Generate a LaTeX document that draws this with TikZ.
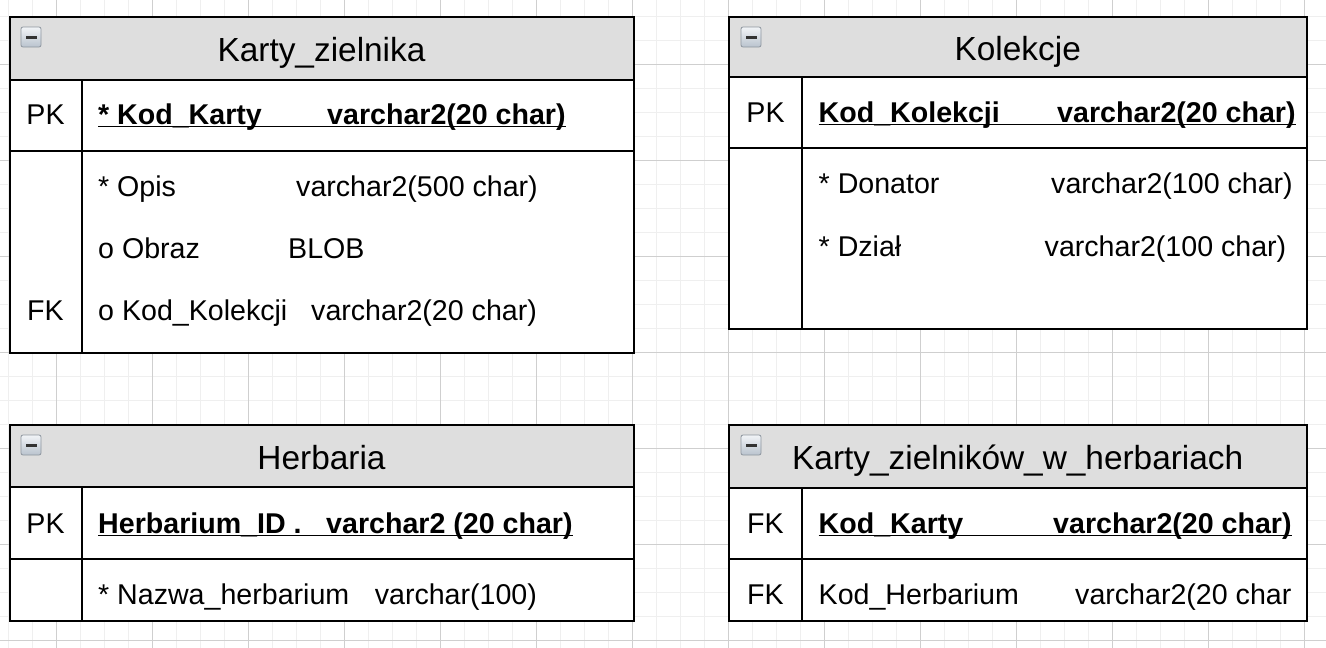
\documentclass[tikz,border=0pt]{standalone}
\usepackage{fontspec}
\setmainfont{Liberation Sans}
\definecolor{minorgrid}{HTML}{EFEFEF}
\definecolor{majorgrid}{HTML}{CFCFCF}
\definecolor{headfill}{HTML}{DEDEDE}
\definecolor{iconborder}{HTML}{8E969F}
\definecolor{icontop}{HTML}{F2F4F7}
\definecolor{iconbot}{HTML}{B9C3CE}
\tikzset{
  body/.style={inner sep=0pt, anchor=base west, font=\fontsize{28.6}{34}\selectfont},
  bodyb/.style={inner sep=0pt, anchor=base west, font=\fontsize{28.6}{34}\selectfont\bfseries},
  keycell/.style={inner sep=0pt, anchor=base, font=\fontsize{28.6}{34}\selectfont},
  tabletitle/.style={inner sep=0pt, anchor=base, font=\fontsize{33.4}{40}\selectfont},
  tableframe/.style={line width=2pt, draw=black},
  headbox/.style={fill=headfill},
  ulined/.style={line width=1.8pt},
  icon/.pic={
    \draw[iconborder, line width=0.8pt, rounded corners=2pt, top color=icontop, bottom color=iconbot] (0,0) rectangle (20,20);
    \fill[black!80] (4.5,9) rectangle (15.5,11.5);
  }
}
\begin{document}
\begin{tikzpicture}[x=1pt, y=-1pt]
\useasboundingbox (0,0) rectangle (1326,648);
\fill[white] (0,0) rectangle (1326,648);
% grid
\foreach \x in {8.6,32.6,...,1326} \draw[minorgrid, line width=1pt] (\x,0) -- (\x,648);
\foreach \y in {16.5,40.5,...,648} \draw[minorgrid, line width=1pt] (0,\y) -- (1326,\y);
\foreach \x in {56.6,152.6,...,1326} \draw[majorgrid, line width=1pt] (\x,0) -- (\x,648);
\foreach \y in {64.5,160.5,...,648} \draw[majorgrid, line width=1pt] (0,\y) -- (1326,\y);

% ---------- Table 1: Karty_zielnika ----------
\fill[white] (9.5,17) rectangle (634,353);
\fill[headbox] (9.5,17) rectangle (634,79.5);
\draw[tableframe] (9.5,17) rectangle (634,353);
\draw[tableframe] (9.5,79.5) -- (634,79.5);
\draw[tableframe] (9.5,151) -- (634,151);
\draw[tableframe] (82,79.5) -- (82,353);
\pic at (21,27) {icon};
\node[tabletitle] (t1) at (321.5,61) {Karty\_zielnika};
\node[keycell] (t1k1) at (45.5,124) {PK};
\node[bodyb] (t1n1) at (98,124) {* Kod\_Karty};
\node[bodyb] (t1d1) at (327,124) {varchar2(20 char)};
\draw[ulined] ([yshift=-2.5pt]t1n1.base west) -- ([yshift=-2.5pt]t1d1.base east);
\node[body] (t1n2) at (98,196) {* Opis};
\node[body] (t1d2) at (296,196) {varchar2(500 char)};
\node[body] (t1n3) at (98,258) {o Obraz};
\node[body] (t1d3) at (288,258) {BLOB};
\node[keycell] (t1k4) at (45.5,320) {FK};
\node[body] (t1n4) at (98,320) {o Kod\_Kolekcji};
\node[body] (t1d4) at (311,320) {varchar2(20 char)};

% ---------- Table 2: Kolekcje ----------
\fill[white] (729,17) rectangle (1306.5,329);
\fill[headbox] (729,17) rectangle (1306.5,77);
\draw[tableframe] (729,17) rectangle (1306.5,329);
\draw[tableframe] (729,77) -- (1306.5,77);
\draw[tableframe] (729,148) -- (1306.5,148);
\draw[tableframe] (802,77) -- (802,329);
\pic at (741,27) {icon};
\node[tabletitle] (t2) at (1017.75,60) {Kolekcje};
\node[keycell] (t2k1) at (765.5,122) {PK};
\node[bodyb] (t2n1) at (818.5,122) {Kod\_Kolekcji};
\node[bodyb] (t2d1) at (1057,122) {varchar2(20 char)};
\draw[ulined] ([yshift=-2.5pt]t2n1.base west) -- ([yshift=-2.5pt]t2d1.base east);
\node[body] (t2n2) at (818.5,193) {* Donator};
\node[body] (t2d2) at (1051,193) {varchar2(100 char)};
\node[body] (t2n3) at (818.5,256) {* Dział};
\node[body] (t2d3) at (1044.5,256) {varchar2(100 char)};

% ---------- Table 3: Herbaria ----------
\fill[white] (9.5,425) rectangle (634,621);
\fill[headbox] (9.5,425) rectangle (634,487);
\draw[tableframe] (9.5,425) rectangle (634,621);
\draw[tableframe] (9.5,487) -- (634,487);
\draw[tableframe] (9.5,559) -- (634,559);
\draw[tableframe] (82,487) -- (82,621);
\pic at (21,435) {icon};
\node[tabletitle] (t3) at (321.5,469) {Herbaria};
\node[keycell] (t3k1) at (45.5,533) {PK};
\node[bodyb] (t3n1) at (98,533) {Herbarium\_ID .};
\node[bodyb] (t3d1) at (326,533) {varchar2 (20 char)};
\draw[ulined] ([yshift=-2.5pt]t3n1.base west) -- ([yshift=-2.5pt]t3d1.base east);
\node[body] (t3n2) at (98,604) {* Nazwa\_herbarium};
\node[body] (t3d2) at (374.6,604) {varchar(100)};

% ---------- Table 4: Karty_zielników_w_herbariach ----------
\fill[white] (729,425) rectangle (1306.5,621);
\fill[headbox] (729,425) rectangle (1306.5,488);
\draw[tableframe] (729,425) rectangle (1306.5,621);
\draw[tableframe] (729,488) -- (1306.5,488);
\draw[tableframe] (729,559) -- (1306.5,559);
\draw[tableframe] (802,488) -- (802,621);
\pic at (741,435) {icon};
\node[tabletitle] (t4) at (1017.75,469) {Karty\_zielników\_w\_herbariach};
\node[keycell] (t4k1) at (765.5,533) {FK};
\node[bodyb] (t4n1) at (818.5,533) {Kod\_Karty};
\node[bodyb] (t4d1) at (1053,533) {varchar2(20 char)};
\draw[ulined] ([yshift=-2.5pt]t4n1.base west) -- ([yshift=-2.5pt]t4d1.base east);
\node[keycell] (t4k2) at (765.5,604) {FK};
\node[body] (t4n2) at (818.5,604) {Kod\_Herbarium};
\node[body] (t4d2) at (1075,604) {varchar2(20 char};
\end{tikzpicture}
\end{document}
